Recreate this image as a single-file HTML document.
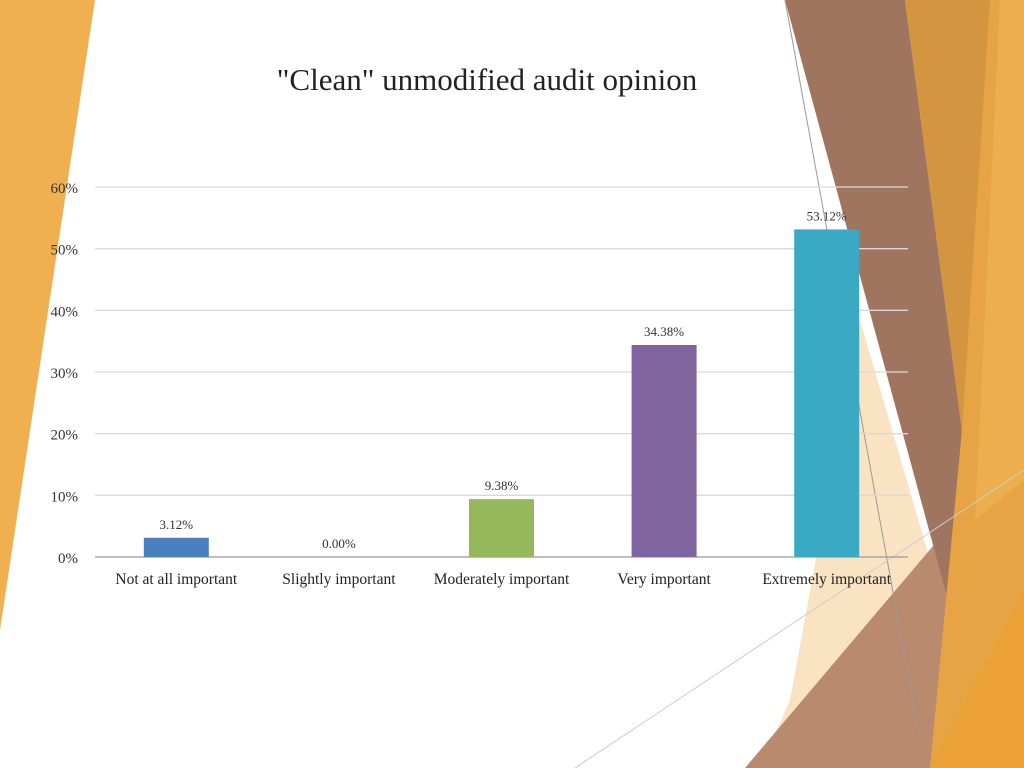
<!DOCTYPE html>
<html><head><meta charset="utf-8"><style>
body{margin:0;width:1024px;height:768px;overflow:hidden;background:#fff;font-family:"Liberation Serif",serif}
svg{position:absolute;left:0;top:0}
</style></head><body>
<svg width="1024" height="768">
<g>
<polygon points="0,0 95,0 0,630" fill="#f0b050"/>
<polygon points="790,700 860,320 930,560 900,768 760,768" fill="#f8e0bc" opacity="0.9"/>
<polygon points="745,768 955,520 975,768" fill="#b98a6e"/>
<polygon points="785,0 905,0 962,430 948,600" fill="#a07560"/>
<polygon points="905,0 1024,0 1024,768 930,768 962,430" fill="#e6a445"/>
<polygon points="905,0 990,0 962,430" fill="#d49540"/>
<polygon points="1000,0 1024,0 1024,480 975,520" fill="#efb150" opacity="0.8"/>
<polygon points="930,768 1024,590 1024,768" fill="#eba135"/>
<line x1="785" y1="0" x2="920" y2="740" stroke="#999" stroke-width="1"/>
<line x1="575" y1="768" x2="1024" y2="470" stroke="#ccc" stroke-width="1"/>
</g>
<text x="487" y="90" text-anchor="middle" font-size="31" fill="#222">"Clean" unmodified audit opinion</text>
<g id="grid"></g><g id="bars"></g>
</svg>
<script>
const categories=["Not at all important","Slightly important","Moderately important","Very important","Extremely important"];
const values=[3.12,0,9.38,34.38,53.12];
const valueLabels=["3.12%","0.00%","9.38%","34.38%","53.12%"];
const colors=["#4a7fbd","#c0504d","#94b85a","#8064a0","#3aa9c4"];
const yTicks=[0,10,20,30,40,50,60];
const x0=95,x1=908,yb=557,yt=187,max=60;
const y=v=>yb-(v/max)*(yb-yt);
const band=(x1-x0)/categories.length;
const xc=i=>x0+band*(i+0.5);
const ns="http://www.w3.org/2000/svg";
const g=document.getElementById('grid'),b=document.getElementById('bars');
function mk(t,a,p){const e=document.createElementNS(ns,t);for(const k in a)e.setAttribute(k,a[k]);p.appendChild(e);return e;}
yTicks.forEach(t=>{
 const l=mk('line',{x1:x0,x2:x1,y1:y(t),y2:y(t),stroke:t===0?'#999':'#d9d9d9','stroke-width':1.3},g);
 
 
 const tx=mk('text',{x:78,y:y(t)+6,'text-anchor':'end','font-size':15,fill:'#333'},g);
 tx.textContent=t+'%';
 
 
});
categories.forEach((c,i)=>{
 const r=mk('rect',{x:xc(i)-32.5,y:y(values[i]),width:65,height:yb-y(values[i]),fill:colors[i]},b);
 
 
 const v=mk('text',{x:xc(i),y:y(values[i])-9,'text-anchor':'middle','font-size':13,fill:'#333'},b);
 v.textContent=valueLabels[i];
 
 
 const lb=mk('text',{x:xc(i),y:584,'text-anchor':'middle','font-size':15.5,fill:'#222'},b);
 lb.textContent=c;
 
 
});
</script>
</body></html>
